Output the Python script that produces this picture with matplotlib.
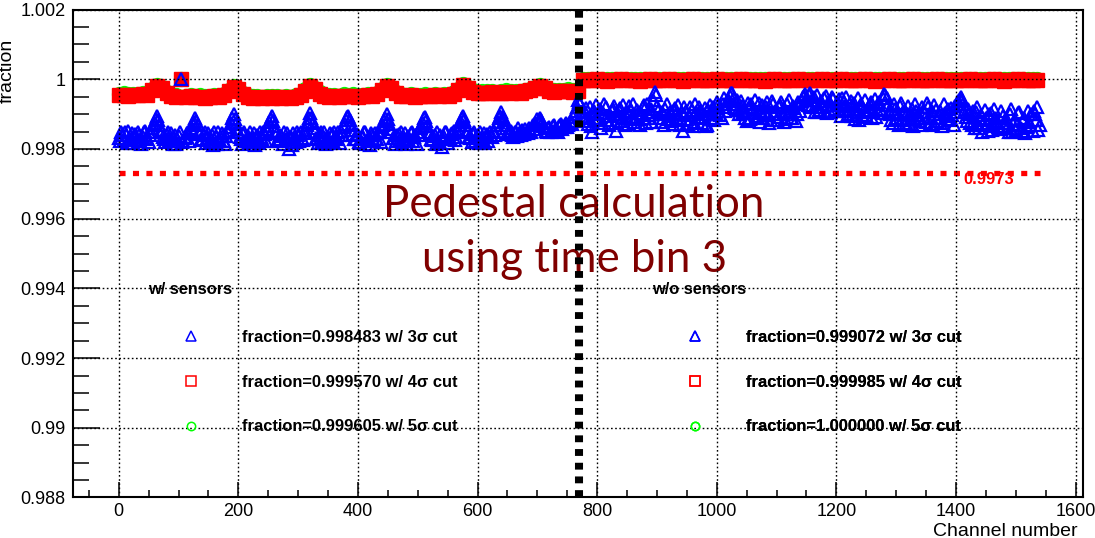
import numpy as np
import matplotlib
matplotlib.use("Agg")
import matplotlib.pyplot as plt
from matplotlib.lines import Line2D
from matplotlib.ticker import MultipleLocator, FuncFormatter

plt.rcParams["font.family"] = ["Liberation Sans", "DejaVu Sans"]

# === data ===
# values are (1 - fraction) in units of 1e-5
# 3 sigma cut, channels 0, 4, 8 ... 1540
blue_deficit_a = [
    168, 152, 175, 160, 148, 170, 182, 158, 150, 176, 165, 149, 172, 160, 140, 125,
    105, 130, 150, 172, 160, 178, 155, 168, 185, 162, 0, 178, 165, 152, 140, 128,
    110, 132, 158, 175, 150, 168, 180, 160, 152, 185, 170, 155, 176, 162, 148, 126,
    100, 128, 150, 170, 158, 176, 162, 150, 178, 188, 160, 152, 172, 158, 142, 124,
    106, 135, 155, 178, 162, 150, 172, 200, 165, 155, 180, 160, 150, 174, 145, 122,
    98, 126, 152, 170, 160, 178, 150, 165, 182, 158, 150, 172, 160, 148, 138, 118,
    104, 130, 156, 172, 160, 182, 165, 150, 175, 190, 160, 155, 170, 150, 136, 120,
    100, 128, 152, 168, 178, 158, 150, 172, 185, 162, 155, 176, 160, 150, 140, 126,
    108, 134, 156, 175, 160, 150, 180, 195, 165, 152, 170, 158, 148, 165, 142, 122,
    104, 130, 150, 168, 158, 176, 160, 150, 172, 182, 158, 150, 165, 148, 130, 112,
    95, 118, 140, 158, 148, 165, 152, 140, 160, 150, 142, 155, 145, 132, 125, 115,
    112, 125, 140, 152, 138, 148, 130, 142, 135, 128, 138, 125, 130, 120, 108, 90,
    60,
    72, 110, 95, 128, 80, 150, 100, 118, 85, 125, 70, 105, 130, 92, 78, 148,
    88, 120, 75, 105, 128, 90, 72, 115, 98, 130, 80, 110, 70, 95, 122, 36,
    78, 112, 95, 130, 72, 105, 120, 88, 100, 75, 118, 149, 92, 128, 80, 135,
    70, 108, 90, 125, 82, 130, 75, 100, 118, 65, 90, 110, 55, 80, 62, 38,
    55, 72, 88, 62, 95, 110, 68, 115, 85, 60, 105, 122, 75, 98, 65, 125,
    62, 100, 118, 80, 66, 122, 95, 60, 110, 78, 120, 64, 90, 52, 42, 75,
    38, 60, 95, 45, 88, 70, 55, 97, 62, 50, 92, 75, 58, 105, 66, 52,
    100, 62, 85, 115, 55, 78, 108, 60, 95, 70, 112, 58, 88, 66, 98, 42,
    55, 90, 118, 72, 100, 130, 68, 95, 125, 78, 110, 135, 70, 102, 120, 80,
    112, 68, 128, 90, 75, 120, 100, 135, 72, 105, 118, 82, 130, 95, 62, 50,
    70, 108, 85, 125, 92, 140, 80, 118, 150, 88, 130, 100, 145, 84, 120, 138,
    90, 135, 110, 152, 86, 128, 145, 98, 140, 120, 154, 92, 132, 148, 100, 80,
    130,
]
# 3 sigma cut, channels 2, 6, 10 ... 1538
blue_deficit_b = [
    178, 160, 150, 182, 170, 155, 165, 175, 160, 185, 152, 168, 180, 150, 132, 115,
    118, 145, 165, 180, 150, 170, 185, 160, 172, 150, 180, 168, 155, 178, 146, 122,
    120, 150, 172, 160, 182, 155, 170, 190, 165, 150, 178, 162, 185, 150, 138, 112,
    115, 142, 165, 185, 150, 168, 180, 172, 155, 170, 182, 165, 150, 178, 134, 114,
    120, 148, 170, 160, 185, 175, 155, 165, 190, 172, 150, 178, 168, 155, 132, 110,
    112, 140, 168, 182, 152, 165, 185, 172, 155, 178, 165, 150, 182, 160, 128, 108,
    116, 145, 170, 158, 180, 165, 150, 185, 168, 155, 178, 170, 152, 180, 130, 110,
    114, 142, 168, 185, 160, 172, 182, 155, 170, 178, 150, 165, 185, 160, 134, 112,
    120, 150, 170, 162, 185, 175, 160, 172, 150, 182, 168, 155, 175, 150, 132, 110,
    116, 145, 165, 180, 152, 168, 182, 170, 155, 165, 178, 160, 150, 160, 122, 104,
    108, 130, 155, 148, 160, 150, 162, 155, 145, 158, 150, 140, 152, 142, 130, 120,
    118, 135, 148, 140, 152, 135, 145, 150, 130, 142, 132, 138, 122, 128, 100, 80,
    65, 95, 120, 82, 108, 135, 90, 75, 112, 140, 98, 80, 118, 105, 86, 125,
    100, 82, 112, 130, 95, 78, 108, 122, 88, 115, 100, 75, 125, 102, 85, 60,
    45, 90, 122, 100, 85, 115, 95, 128, 82, 110, 130, 98, 80, 115, 102, 88,
    122, 95, 80, 112, 100, 135, 88, 112, 80, 98, 75, 102, 70, 92, 60, 48,
    40, 82, 60, 100, 78, 92, 120, 80, 72, 98, 112, 68, 90, 110, 80, 102,
    118, 72, 90, 108, 75, 100, 115, 70, 95, 112, 82, 100, 70, 62, 48, 58,
    45, 80, 52, 72, 95, 62, 80, 48, 75, 95, 58, 85, 68, 92, 55, 78,
    90, 72, 105, 68, 95, 118, 72, 88, 102, 80, 65, 95, 108, 72, 85, 55,
    45, 75, 100, 125, 85, 110, 78, 118, 92, 100, 128, 85, 115, 92, 110, 130,
    95, 122, 80, 108, 132, 88, 112, 90, 125, 98, 85, 115, 102, 78, 70, 56,
    60, 95, 120, 100, 132, 108, 95, 140, 102, 125, 112, 148, 98, 135, 110, 125,
    142, 105, 125, 140, 100, 150, 118, 132, 95, 148, 110, 138, 122, 100, 90, 118,
    145,
]
# 4 sigma cut, channels 0, 8, 16 ... 1536
red_deficit = [
    46, 44, 47, 45, 46, 43, 44, 32, 20, 26, 40, 48, 50, 0, 51, 49,
    52, 50, 53, 51, 49, 52, 46, 34, 21, 28, 42, 50, 53, 51, 54, 52,
    53, 51, 54, 52, 55, 50, 45, 33, 19, 27, 41, 49, 50, 48, 51, 47,
    49, 47, 50, 48, 46, 49, 43, 31, 18, 26, 40, 47, 49, 46, 50, 48,
    47, 49, 46, 48, 45, 47, 41, 30, 17, 25, 36, 40, 38, 39, 37, 40,
    38, 36, 39, 37, 38, 35, 32, 26, 18, 24, 33, 36, 34, 35, 33, 36,
    34,
    2, 1, 3, 0, 2, 4, 1, 2, 0, 3, 1, 2, 4, 1, 0, 2,
    1, 3, 0, 2, 1, 4, 2, 0, 1, 3, 2, 1, 0, 2, 3, 1,
    2, 0, 1, 3, 2, 1, 4, 2, 0, 1, 2, 3, 1, 0, 2, 1,
    3, 1, 0, 2, 1, 2, 0, 3, 1, 2, 1, 0, 2, 4, 1, 2,
    0, 2, 1, 3, 2, 0, 1, 2, 3, 1, 0, 2, 1, 3, 2, 1,
    2, 0, 3, 1, 2, 1, 0, 2, 4, 1, 2, 0, 3, 1, 2, 1,
]
# 5 sigma cut, channels 0, 8, 16 ... 1536
green_deficit = [
    42, 40, 43, 41, 42, 39, 40, 29, 17, 23, 36, 44, 46, 0, 47, 45,
    48, 46, 49, 47, 45, 48, 42, 30, 18, 25, 38, 46, 49, 47, 50, 48,
    49, 47, 50, 48, 51, 46, 41, 29, 16, 24, 37, 45, 46, 44, 47, 43,
    45, 43, 46, 44, 42, 45, 39, 28, 15, 23, 36, 43, 45, 42, 46, 44,
    43, 45, 42, 44, 41, 43, 37, 27, 14, 22, 32, 36, 34, 35, 33, 36,
    34, 32, 35, 33, 34, 31, 29, 23, 15, 21, 29, 32, 30, 31, 29, 32,
    30,
    0, 0, 0, 0, 0, 0, 0, 0, 0, 0, 0, 0, 0, 0, 0, 0,
    0, 0, 0, 0, 0, 0, 0, 0, 0, 0, 0, 0, 0, 0, 0, 0,
    0, 0, 0, 0, 0, 0, 0, 0, 0, 0, 0, 0, 0, 0, 0, 0,
    0, 0, 0, 0, 0, 0, 0, 0, 0, 0, 0, 0, 0, 0, 0, 0,
    0, 0, 0, 0, 0, 0, 0, 0, 0, 0, 0, 0, 0, 0, 0, 0,
    0, 0, 0, 0, 0, 0, 0, 0, 0, 0, 0, 0, 0, 0, 0, 0,
]

sensor_boundary = 770      # channel where the w/o-sensor part starts
threshold = 0.9973
sigma_cuts = [3, 4, 5]
frac_with = ["0.998483", "0.999570", "0.999605"]
frac_without = ["0.999072", "0.999985", "1.000000"]

ch_blue = np.concatenate([np.arange(len(blue_deficit_a)) * 4,
                          np.arange(len(blue_deficit_b)) * 4 + 2])
blue = 1 - np.array(blue_deficit_a + blue_deficit_b) * 1e-5
order = np.argsort(ch_blue)
ch_blue, blue = ch_blue[order], blue[order]
ch_rg = np.arange(len(red_deficit)) * 8
red = 1 - np.array(red_deficit) * 1e-5
green = 1 - np.array(green_deficit) * 1e-5

# === figure ===
fig = plt.figure(figsize=(10.95, 5.38), dpi=100)
ax = fig.add_axes([0.0664, 0.0753, 0.9224, 0.9069])

ax.plot(ch_rg, green, ls="none", marker="o", ms=9.5, mfc="none", mec="#00ff00", mew=1.5, zorder=2.0)
ax.plot(ch_rg, red, ls="none", marker="s", ms=9.5, mfc="red", mec="red", mew=1.0, zorder=2.1)
ax.plot(ch_blue, blue, ls="none", marker="^", ms=8.6, mfc="none", mec="blue", mew=1.6, zorder=2.2)

ax.hlines(threshold, 0, ch_blue[-1], color="red", lw=3.8, ls=(0, (1.15, 1.4)), zorder=2.3)
ax.text(1413, threshold - 0.00019, "0.9973", color="red", fontsize=12, weight="bold", va="center")
ax.axvline(sensor_boundary, color="black", lw=5.8, ls=(0, (0.85, 0.85)), zorder=3)

ax.text(0.4958, 0.575, "Pedestal calculation", transform=ax.transAxes, ha="center",
        va="baseline", fontsize=31.5, color="#800000", family="Lato", zorder=2.4)
ax.text(0.4973, 0.462, "using time bin 3", transform=ax.transAxes, ha="center",
        va="baseline", fontsize=31.5, color="#800000", family="Lato", zorder=2.4)

# axes, ticks, grid (ROOT look)
ax.set_xlim(-77, 1612)
ax.set_ylim(0.988, 1.002)
ax.xaxis.set_major_locator(MultipleLocator(200))
ax.xaxis.set_minor_locator(MultipleLocator(50))
ax.yaxis.set_major_locator(MultipleLocator(0.002))
ax.yaxis.set_minor_locator(MultipleLocator(0.0005))
ax.yaxis.set_major_formatter(FuncFormatter(lambda v, p: f"{v:g}"))
ax.xaxis.set_major_formatter(FuncFormatter(lambda v, p: f"{v:g}"))
ax.tick_params(which="both", direction="in", top=False, right=False, width=1.1, labelsize=13)
ax.tick_params(axis="y", which="major", length=19.4, pad=5)
ax.tick_params(axis="y", which="minor", length=11.5)
ax.tick_params(axis="x", which="major", length=10.8, pad=4)
ax.tick_params(axis="x", which="minor", length=5)
ax.set_axisbelow(False)
ax.grid(True, which="major", color="black", lw=1.0, ls=(0, (1.2, 1.8)))
for s in ax.spines.values():
    s.set_linewidth(1.5)

ax.set_xlabel("Channel number", fontsize=14, loc="right")
ax.xaxis.set_label_coords(0.9954, -0.0525)
ax.set_ylabel("fraction", fontsize=14, loc="top")
ax.yaxis.set_label_coords(-0.0561, 0.9408)

# two legends: header text + entries
def make_handles():
    return [
        Line2D([], [], ls="none", marker="^", ms=7, mfc="none", mec="blue", mew=1.1),
        Line2D([], [], ls="none", marker="s", ms=7, mfc="none", mec="red", mew=1.1),
        Line2D([], [], ls="none", marker="o", ms=6, mfc="none", mec="#00ff00", mew=1.1),
    ]

for title, fracs, xpos in [("w/ sensors", frac_with, 0.0746), ("w/o sensors", frac_without, 0.5736)]:
    ax.text(xpos, 0.4264, title, transform=ax.transAxes, ha="left", va="center",
            fontsize=11.8, weight="bold")
    labels = [f"fraction={f} w/ {c}\u03c3 cut" for f, c in zip(fracs, sigma_cuts)]
    leg = ax.legend(make_handles(), labels, loc="upper left",
                    bbox_to_anchor=(xpos, 0.3435), frameon=False,
                    prop=dict(weight="bold", size=11.9),
                    handlelength=5.2, handletextpad=0.5,
                    labelspacing=1.8, borderpad=0, borderaxespad=0)
    ax.add_artist(leg)

fig.savefig("out.png", dpi=100)
